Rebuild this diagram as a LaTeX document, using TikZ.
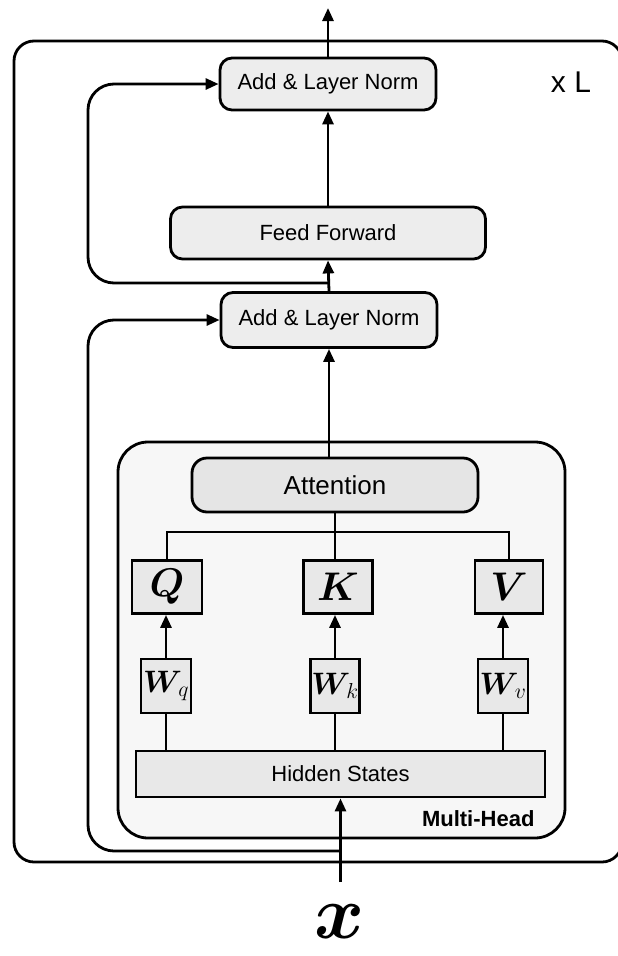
\documentclass[tikz,border=0pt]{standalone}
\usepackage{fix-cm}
\usepackage{amsmath}
\usepackage{amssymb}
\usepackage{fontspec}
\setmainfont{Liberation Sans}
\usetikzlibrary{arrows.meta}

\tikzset{
  box/.style={draw, line width=2.8pt, fill=black!7, rounded corners=12pt,
    minimum height=52pt, font=\fontsize{22}{26}\selectfont},
  sqbox/.style={draw, line width=2.8pt, fill=black!9, inner sep=0pt},
  wire/.style={line width=2.8pt},
  arr/.style={wire, -{Triangle[length=13pt,width=11pt]}},
  res/.style={arr, rounded corners=26pt},
}

\begin{document}
\begin{tikzpicture}[x=1pt,y=-1pt]
\useasboundingbox (0,0) rectangle (618,956);

% outer block
\draw[wire, rounded corners=20pt] (14,41) rectangle (622,862);
\node[font=\fontsize{30}{32}\selectfont] (nl) at (571,82) {x L};

% multi-head part
\node[draw, line width=2.8pt, fill=black!3, rounded corners=30pt,
  minimum width=447pt, minimum height=396pt] (mh) at (341.5,640) {};
\node[font=\bfseries\fontsize{22}{26}\selectfont, anchor=base east] (mhl) at (538,826) {Multi-Head};

\node[box, fill=black!10, rounded corners=15pt, minimum width=286pt, minimum height=54pt,
  font=\fontsize{26}{30}\selectfont] (attn) at (335,485) {Attention};

\node[sqbox, minimum width=70pt, minimum height=53pt, font=\fontsize{40}{42}\selectfont] (q) at (167,587) {$\boldsymbol{Q}$};
\node[sqbox, minimum width=69pt, minimum height=53pt, font=\fontsize{40}{42}\selectfont] (k) at (338,587) {$\boldsymbol{K}$};
\node[sqbox, minimum width=68pt, minimum height=53pt, font=\fontsize{40}{42}\selectfont] (v) at (509,587) {$\boldsymbol{V}$};

\node[sqbox, minimum width=50pt, minimum height=54pt, font=\fontsize{31}{32}\selectfont] (wq) at (166,686) {$\boldsymbol{W}_{\!q}$};
\node[sqbox, minimum width=49pt, minimum height=54pt, font=\fontsize{31}{32}\selectfont] (wk) at (335,686) {$\boldsymbol{W}_{\!k}$};
\node[sqbox, minimum width=50pt, minimum height=54pt, font=\fontsize{31}{32}\selectfont] (wv) at (503,686) {$\boldsymbol{W}_{\!v}$};

\node[sqbox, minimum width=409pt, minimum height=46pt, font=\fontsize{22}{26}\selectfont] (hs) at (340.5,774) {Hidden States};

% upper part
\node[box, minimum width=216pt] (an1) at (328,84) {Add \& Layer Norm};
\node[box, minimum width=315pt] (ff) at (328,233) {Feed Forward};
\node[box, minimum width=216pt, minimum height=55pt] (an2) at (329,320) {Add \& Layer Norm};

\coordinate (out) at (328,8);
\coordinate (j1) at (328,283);
\coordinate (j2) at (340.5,851);
\coordinate (xin) at (340.5,882);
\coordinate (bus) at (0,532);

\draw[arr] (an1.north) -- (out);
\draw[arr] (ff.north) -- (an1.south);
\draw[arr] (an2.north) -- (ff.south);
\draw[res] (j1) -- (88,283) |- (an1.west);
\draw[arr] (an2.south |- attn.north) -- (an2.south);

\draw[wire] (attn.south) -- (attn.south |- bus);
\draw[wire] (q.north) |- (v.north |- bus) -- (v.north);
\draw[wire] (attn.south |- bus) -- (attn.south |- k.north);

\foreach \w/\t in {wq/q, wk/k, wv/v}
    \draw[arr] (\w.north) -- (\w.north |- \t.south);
\foreach \w in {wq, wk, wv}
    \draw[wire] (\w.south) -- (\w.south |- hs.north);

\draw[arr] (xin) -- (hs.south);
\draw[res] (j2) -- (88,851) |- (an2.west);

\node[font=\fontsize{76}{76}\selectfont, inner sep=0pt] (x) at (340,922) {$\boldsymbol{x}$};

\end{tikzpicture}
\end{document}
